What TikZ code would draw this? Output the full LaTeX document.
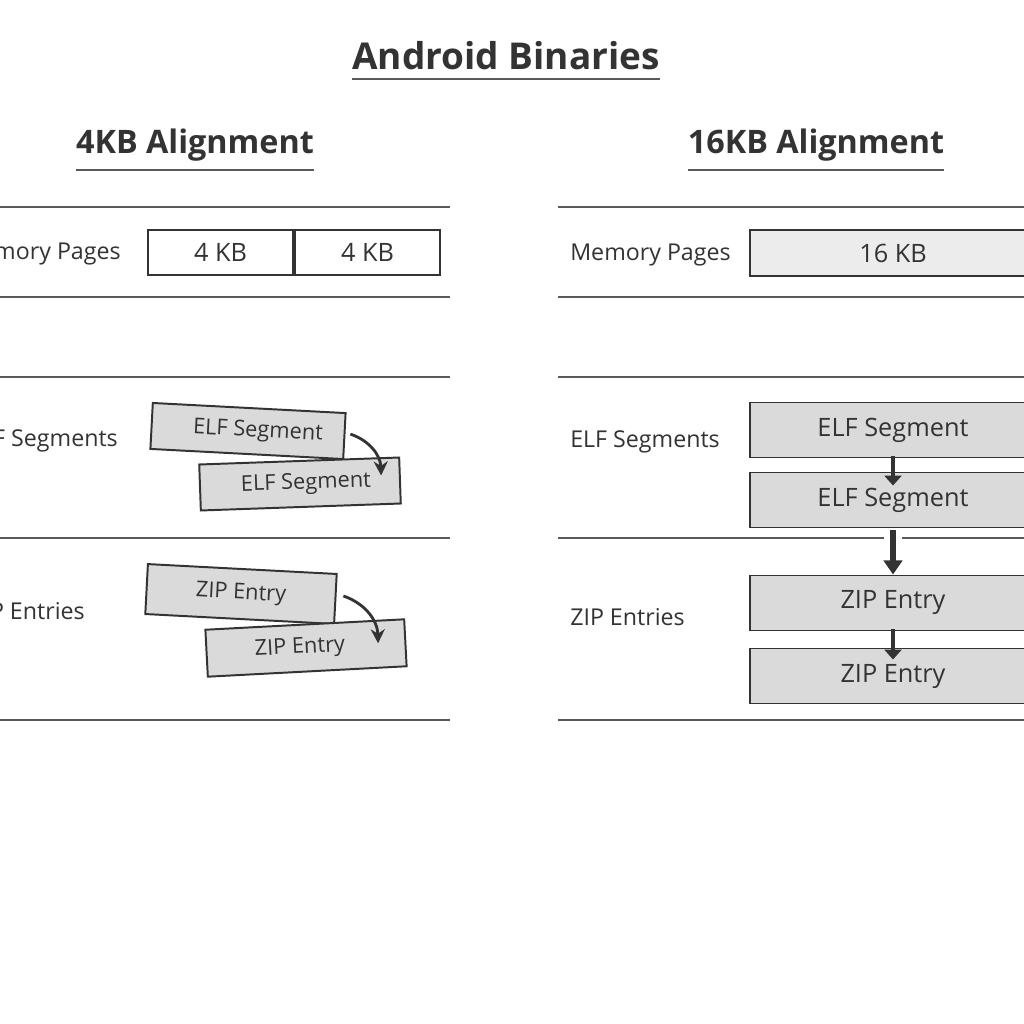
\documentclass[tikz,border=0pt]{standalone}
\usepackage{fontspec}
\setmainfont{Open Sans}
\usetikzlibrary{arrows.meta,arrows}
\usetikzlibrary{positioning,calc}

\definecolor{ink}{HTML}{333333}
\definecolor{rulegray}{HTML}{5A5A5A}
\definecolor{boxfill}{HTML}{DADADA}
\definecolor{pagefill}{HTML}{ECECEC}

\begin{document}
\begin{tikzpicture}[x=0.025cm,y=-0.025cm,
  title/.style={text=ink,inner xsep=0pt,font=\fontsize{26.3}{30}\selectfont\bfseries},
  head/.style={text=ink,inner xsep=0pt,font=\fontsize{23}{27}\selectfont\bfseries},
  lbl/.style={text=ink,anchor=west,inner sep=0pt,font=\fontsize{16.5}{20}\selectfont},
  page/.style={draw=ink,line width=1.4pt,minimum width=3.625cm,minimum height=1.125cm,inner sep=0pt,text=ink,font=\fontsize{18}{20}\selectfont},
  seg/.style={draw=ink,line width=1.4pt,fill=boxfill,inner sep=0pt,text=ink,font=\fontsize{15.5}{20}\selectfont},
  block/.style={seg,minimum width=7.15cm,minimum height=1.375cm,font=\fontsize{18}{20}\selectfont},
  sep/.style={draw=rulegray,line width=1pt},
  uline/.style={draw=rulegray,line width=1.4pt},
  hop/.style={-{Stealth[length=10pt,width=10pt]},draw=ink,line width=2pt},
  down/.style={-{Triangle[length=7pt,width=12pt]},draw=ink,line width=2.8pt}]
\useasboundingbox (0,0) rectangle (1024,1024);
\clip (0,0) rectangle (1024,1024);
\fill[white] (0,0) rectangle (1024,1024);

% titles
\node[title] (ttl) at (506,56) {Android Binaries};
\draw[uline] ([yshift=-3pt]ttl.south west) -- ([yshift=-3pt]ttl.south east);
\node[head] (h4) at (195,145) {4KB Alignment};
\draw[uline] ([yshift=-3pt]h4.south west) -- ([yshift=-3pt]h4.south east);
\node[head] (h16) at (816,145) {16KB Alignment};
\draw[uline] ([yshift=-3pt]h16.south west) -- ([yshift=-3pt]h16.south east);

% separators
\foreach \y in {207,297,377,538,720} {
  \draw[sep] (0,\y) -- (450,\y);
  \draw[sep] (558,\y) -- (1024,\y);
}

% 4KB side
\node[lbl] (mem4) at (-40,254) {Memory Pages};
\node[page] (pgA) at (220.5,252.5) {4 KB};
\node[page,right=0pt of pgA] (pgB) {4 KB};

\node[lbl] (elf4) at (-32,441) {ELF Segments};
\node[seg,minimum width=4.825cm,minimum height=1.15cm,rotate=-3] (elfA) at (248,431) {\hspace{0.5cm}ELF Segment};
\node[seg,minimum width=5cm,minimum height=1.15cm,rotate=2] (elfB) at (300,484) {\hspace{0.3cm}ELF Segment};
\draw[hop] ($(elfA.east)+(5,-2)$) to[bend left=35] ($(elfB.north east)+(-19,19)$);

\node[lbl] (zip4) at (-30,611) {ZIP Entries};
\node[seg,minimum width=4.725cm,minimum height=1.25cm,rotate=-3] (zipA) at (241,594) {ZIP Entry};
\node[seg,minimum width=4.975cm,minimum height=1.175cm,rotate=3] (zipB) at (306,648) {\hspace{-0.3cm}ZIP Entry};
\draw[hop] ($(zipA.east)+(7,-3)$) to[bend left=35] ($(zipB.north east)+(-27,25)$);

% 16KB side
\node[lbl] (mem16) at (570,255) {Memory Pages};
\node[page,fill=pagefill,minimum width=7.15cm,minimum height=1.15cm] (pgC) at (893,253) {16 KB};

\node[lbl] (elf16) at (570,442) {ELF Segments};
\node[block] (elfC) at (893,430) {ELF Segment};
\node[block] (elfD) at (893,500) {ELF Segment};

\node[lbl] (zip16) at (570,617) {ZIP Entries};
\node[block] (zipC) at (893,603) {ZIP Entry};
\node[block] (zipD) at (893,676) {ZIP Entry};

\draw[down] ($(elfC.south)+(0,-2)$) -- ($(elfD.north)+(0,14)$);
\fill[white] (884,535) rectangle (902,541);
\draw[down,line width=4.5pt,-{Triangle[length=10pt,width=13pt]}] ($(elfD.south)+(0,2)$) -- (zipC.north);
\draw[down] ($(zipC.south)+(0,-2)$) -- ($(zipD.north)+(0,12)$);
\end{tikzpicture}
\end{document}
